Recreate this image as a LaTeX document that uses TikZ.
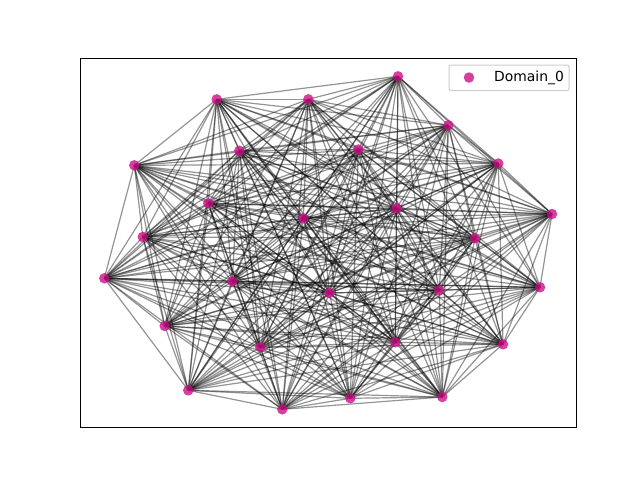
\documentclass[tikz,border=0pt]{standalone}
\usepackage{fontspec}
\setmainfont{DejaVu Sans}
\usetikzlibrary{backgrounds}
\definecolor{nodecol}{RGB}{205,15,135}
\definecolor{legframe}{RGB}{204,204,204}
\tikzset{
  vert/.style={circle,fill=nodecol,fill opacity=0.8,inner sep=0pt,minimum size=10.5pt},
  edge/.style={draw=black,draw opacity=0.42,line width=1.2pt},
  frame/.style={draw=black,line width=1pt},
  legbox/.style={draw=legframe,fill=white,fill opacity=0.8,rounded corners=2pt,line width=1pt},
  legtext/.style={font=\fontsize{13.9}{16}\selectfont,anchor=west,inner sep=0pt}
}
\begin{document}
\begin{tikzpicture}[x=1pt,y=-1pt]
\useasboundingbox (0,0) rectangle (640,480);
\node[vert] (n1) at (398,76.3) {};
\node[vert] (n2) at (216.7,99.3) {};
\node[vert] (n3) at (308.3,99.3) {};
\node[vert] (n4) at (448.3,125.3) {};
\node[vert] (n5) at (134.3,165.3) {};
\node[vert] (n6) at (239.3,150.7) {};
\node[vert] (n7) at (358.3,149.5) {};
\node[vert] (n8) at (498.3,163.5) {};
\node[vert] (n9) at (208.3,203.3) {};
\node[vert] (n10) at (303.3,218.3) {};
\node[vert] (n11) at (396.5,208.3) {};
\node[vert] (n12) at (552,214) {};
\node[vert] (n13) at (142.8,237) {};
\node[vert] (n14) at (475,238.3) {};
\node[vert] (n15) at (104.3,278.3) {};
\node[vert] (n16) at (232.3,281.3) {};
\node[vert] (n17) at (329.5,293) {};
\node[vert] (n18) at (439.3,290.3) {};
\node[vert] (n19) at (540,287.3) {};
\node[vert] (n20) at (164.7,326) {};
\node[vert] (n21) at (260.3,347.3) {};
\node[vert] (n22) at (395.3,342.3) {};
\node[vert] (n23) at (503,344.3) {};
\node[vert] (n24) at (188.3,390.3) {};
\node[vert] (n25) at (282.3,409.3) {};
\node[vert] (n26) at (350.3,398.3) {};
\node[vert] (n27) at (442.3,397) {};
\begin{scope}[on background layer]
\foreach \i in {1,...,27}{
  \foreach \j in {1,...,27}{
    \ifnum\i<\j
      \draw[edge] (n\i.center) -- (n\j.center);
    \fi
  }
}
\end{scope}
\coordinate (axtl) at (80,58);
\coordinate (axbr) at (576,427);
\draw[frame] (axtl) rectangle (axbr);
\coordinate (legtl) at (449,65);
\coordinate (legbr) at (569,90.5);
\draw[legbox] (legtl) rectangle (legbr);
\node[vert] (legmark) at (469,77.5) {};
\node[legtext] (legtxt) at (494,77.5) {Domain\_0};
\end{tikzpicture}
\end{document}
